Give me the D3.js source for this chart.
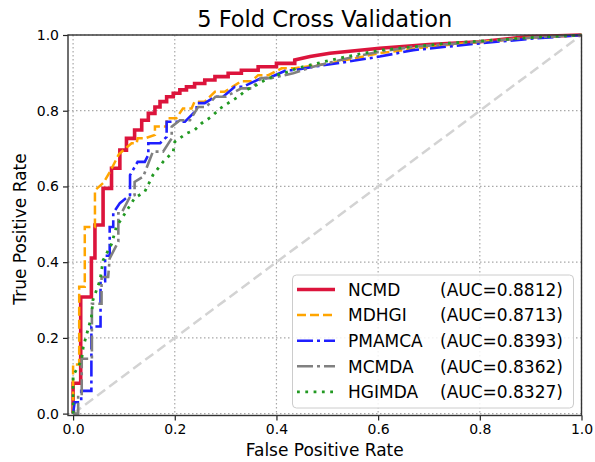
<!DOCTYPE html>
<html>
<head>
<meta charset="utf-8">
<script src="https://cdn.jsdelivr.net/npm/d3@7"></script>
<style>
  body { margin: 0; background: #fff; }
  text { font-family: "DejaVu Sans", sans-serif; fill: #000; }
</style>
</head>
<body>
<script>
// chart data
var methods = ["NCMD", "MDHGI", "PMAMCA", "MCMDA", "HGIMDA"];
var aucs = [0.8812, 0.8713, 0.8393, 0.8362, 0.8327];
var tickValues = [0.0, 0.2, 0.4, 0.6, 0.8, 1.0];

// ROC vertices, false positive rate / true positive rate
var fprNCMD = [0, 0, 0.015, 0.015, 0.036, 0.036, 0.043, 0.043, 0.059, 0.059, 0.0756, 0.0756, 0.092, 0.092, 0.105, 0.105, 0.121, 0.121, 0.135, 0.135, 0.148, 0.148, 0.161, 0.161, 0.171, 0.171, 0.184, 0.184, 0.197, 0.197, 0.21, 0.21, 0.223, 0.223, 0.239, 0.239, 0.259, 0.259, 0.279, 0.279, 0.305, 0.305, 0.331, 0.331, 0.364, 0.364, 0.4, 0.4, 0.436, 0.436, 0.466, 0.505, 0.603, 0.7, 0.8, 0.89, 1];
var tprNCMD = [0, 0.08, 0.08, 0.308, 0.308, 0.411, 0.411, 0.498, 0.498, 0.595, 0.595, 0.648, 0.648, 0.696, 0.696, 0.727, 0.727, 0.749, 0.749, 0.775, 0.775, 0.793, 0.793, 0.81, 0.81, 0.824, 0.824, 0.837, 0.837, 0.846, 0.846, 0.855, 0.855, 0.863, 0.863, 0.872, 0.872, 0.881, 0.881, 0.89, 0.89, 0.899, 0.899, 0.907, 0.907, 0.916, 0.916, 0.925, 0.925, 0.934, 0.943, 0.952, 0.965, 0.975, 0.982, 0.995, 1];

var fprMDHGI = [0, 0, 0.012, 0.012, 0.023, 0.023, 0.043, 0.043, 0.06, 0.075, 0.09, 0.107, 0.115, 0.125, 0.127, 0.141, 0.161, 0.161, 0.184, 0.184, 0.203, 0.216, 0.233, 0.239, 0.259, 0.279, 0.298, 0.331, 0.351, 0.364, 0.384, 0.41, 0.436, 0.505, 0.603, 0.702, 0.8, 0.9, 1];
var tprMDHGI = [0, 0.13, 0.13, 0.335, 0.335, 0.493, 0.493, 0.59, 0.61, 0.645, 0.685, 0.705, 0.714, 0.714, 0.727, 0.727, 0.736, 0.758, 0.758, 0.78, 0.78, 0.806, 0.806, 0.824, 0.824, 0.85, 0.85, 0.878, 0.878, 0.894, 0.894, 0.912, 0.912, 0.925, 0.952, 0.969, 0.982, 0.993, 1];

var fprPMAMCA = [0, 0.003, 0.016, 0.016, 0.036, 0.036, 0.054, 0.054, 0.063, 0.063, 0.072, 0.072, 0.079, 0.079, 0.092, 0.112, 0.112, 0.127, 0.141, 0.148, 0.148, 0.171, 0.184, 0.184, 0.22, 0.243, 0.243, 0.259, 0.279, 0.295, 0.318, 0.334, 0.37, 0.384, 0.42, 0.436, 0.472, 0.538, 0.603, 0.669, 0.735, 0.8, 0.9, 1];
var tprPMAMCA = [0, 0.03, 0.03, 0.06, 0.06, 0.23, 0.23, 0.35, 0.35, 0.417, 0.417, 0.493, 0.493, 0.53, 0.556, 0.577, 0.63, 0.665, 0.665, 0.683, 0.714, 0.714, 0.731, 0.771, 0.771, 0.802, 0.82, 0.82, 0.837, 0.837, 0.863, 0.863, 0.886, 0.886, 0.907, 0.907, 0.916, 0.929, 0.943, 0.96, 0.969, 0.978, 0.99, 1];

var fprMCMDA = [0, 0.01, 0.01, 0.017, 0.017, 0.037, 0.037, 0.056, 0.056, 0.069, 0.072, 0.089, 0.089, 0.095, 0.112, 0.121, 0.121, 0.138, 0.157, 0.177, 0.194, 0.194, 0.21, 0.23, 0.246, 0.262, 0.28, 0.3, 0.331, 0.351, 0.37, 0.39, 0.433, 0.472, 0.538, 0.603, 0.669, 0.8, 0.9, 1];
var tprMCMDA = [0, 0, 0.044, 0.044, 0.145, 0.145, 0.29, 0.29, 0.361, 0.361, 0.41, 0.454, 0.529, 0.529, 0.573, 0.577, 0.612, 0.626, 0.692, 0.692, 0.727, 0.758, 0.775, 0.775, 0.81, 0.81, 0.837, 0.837, 0.859, 0.859, 0.886, 0.886, 0.899, 0.916, 0.938, 0.956, 0.969, 0.982, 0.993, 1];

var fprHGIMDA = [0, 0, 0.0165, 0.02, 0.036, 0.039, 0.053, 0.059, 0.076, 0.085, 0.098, 0.121, 0.141, 0.157, 0.177, 0.197, 0.2, 0.223, 0.239, 0.253, 0.272, 0.289, 0.305, 0.325, 0.341, 0.361, 0.377, 0.4, 0.423, 0.44, 0.492, 0.538, 0.603, 0.669, 0.735, 0.8, 0.9, 1];
var tprHGIMDA = [0, 0.1, 0.14, 0.176, 0.255, 0.3, 0.352, 0.405, 0.449, 0.493, 0.52, 0.569, 0.586, 0.63, 0.665, 0.692, 0.718, 0.74, 0.749, 0.767, 0.784, 0.806, 0.82, 0.837, 0.855, 0.868, 0.881, 0.894, 0.903, 0.912, 0.929, 0.943, 0.96, 0.969, 0.978, 0.984, 0.993, 1];

var fprs = [fprNCMD, fprMDHGI, fprPMAMCA, fprMCMDA, fprHGIMDA];
var tprs = [tprNCMD, tprMDHGI, tprPMAMCA, tprMCMDA, tprHGIMDA];

// line styles per method
var colors = ["#dc143c", "#ffa500", "#1f1fff", "#808080", "#229922"];
var widths = [3.6, 2.5, 2.6, 2.6, 2.8];
var dashes = [null, "9,4", "16,4,3,4", "16,4,3,4", "2.8,5.5"];

var w = 595, h = 462;
var plotL = 68, plotR = 581.5, plotT = 35, plotB = 415.5;

var svg = d3.select("body").append("svg")
    .attr("width", w)
    .attr("height", h)
    .style("background", "#fff");

var x = d3.scaleLinear().domain([-0.01, 1.0]).range([plotL, plotR]);
var y = d3.scaleLinear().domain([-0.005, 1.0]).range([plotB, plotT]);

//dotted grid
svg.append("g").selectAll("line")
    .data(tickValues)
    .enter().append("line")
    .attr("x1", function(d){ return x(d); })
    .attr("x2", function(d){ return x(d); })
    .attr("y1", plotT).attr("y2", plotB)
    .style("stroke", "#a8a8a8")
    .style("stroke-width", 1.2)
    .style("stroke-dasharray", "1.5,2.5");
svg.append("g").selectAll("line")
    .data(tickValues)
    .enter().append("line")
    .attr("y1", function(d){ return y(d); })
    .attr("y2", function(d){ return y(d); })
    .attr("x1", plotL).attr("x2", plotR)
    .style("stroke", "#a8a8a8")
    .style("stroke-width", 1.2)
    .style("stroke-dasharray", "1.5,2.5");

//chance diagonal
svg.append("line")
    .attr("x1", x(0)).attr("y1", y(0))
    .attr("x2", x(1)).attr("y2", y(1))
    .style("stroke", "#d3d3d3")
    .style("stroke-width", 2.5)
    .style("stroke-dasharray", "10,5");

var line = d3.line()
    .x(function(d){ return x(d[0]); })
    .y(function(d){ return y(d[1]); });

methods.forEach(function(m, i){
    var pts = fprs[i].map(function(f, j){ return [f, tprs[i][j]]; });
    svg.append("path")
        .datum(pts)
        .attr("d", line)
        .style("fill", "none")
        .style("stroke", colors[i])
        .style("stroke-width", widths[i])
        .style("stroke-dasharray", dashes[i])
        .style("stroke-linejoin", "miter");
});

//axes
var xAxis = d3.axisBottom(x).tickValues(tickValues).tickFormat(d3.format(".1f"))
    .tickSize(5).tickSizeOuter(0).tickPadding(4);
var yAxis = d3.axisLeft(y).tickValues(tickValues).tickFormat(d3.format(".1f"))
    .tickSize(5).tickSizeOuter(0).tickPadding(4);

var gx = svg.append("g").attr("transform", "translate(0," + plotB + ")").call(xAxis);
var gy = svg.append("g").attr("transform", "translate(" + plotL + ",0)").call(yAxis);
[gx, gy].forEach(function(g){
    g.select(".domain").remove();
    g.selectAll("line").style("stroke", "#222").style("stroke-width", 1.2);
    g.selectAll("text").style("font-size", "14px").style("font-family", "DejaVu Sans").style("fill", "#000");
});

//frame
svg.append("rect")
    .attr("x", plotL).attr("y", plotT)
    .attr("width", plotR - plotL).attr("height", plotB - plotT)
    .style("fill", "none")
    .style("stroke", "#333")
    .style("stroke-width", 1.4);

//title and labels
svg.append("text")
    .attr("x", (plotL + plotR) / 2).attr("y", 27)
    .attr("text-anchor", "middle")
    .style("font-size", "22.5px")
    .text("5 Fold Cross Validation");
svg.append("text")
    .attr("x", (plotL + plotR) / 2).attr("y", 456)
    .attr("text-anchor", "middle")
    .style("font-size", "17px")
    .text("False Positive Rate");
svg.append("text")
    .attr("transform", "translate(26," + 229 + ") rotate(-90)")
    .attr("text-anchor", "middle")
    .style("font-size", "17px")
    .text("True Positive Rate");

//legend
var legend = svg.append("g");
legend.append("rect")
    .attr("x", 292.5).attr("y", 275)
    .attr("width", 281).attr("height", 133)
    .attr("rx", 4)
    .style("fill", "#fff").style("fill-opacity", 0.85)
    .style("stroke", "#cccccc").style("stroke-width", 1);

var rows = legend.selectAll("g")
    .data(methods)
    .enter().append("g")
    .attr("transform", function(d, i){ return "translate(0," + (289.5 + i * 25.6) + ")"; });
rows.append("line")
    .attr("x1", 297).attr("x2", 335)
    .style("stroke", function(d, i){ return colors[i]; })
    .style("stroke-width", function(d, i){ return widths[i]; })
    .style("stroke-dasharray", function(d, i){ return dashes[i]; });
rows.append("text")
    .attr("x", 348).attr("y", 6.2)
    .style("font-size", "17px")
    .text(function(d){ return d; });
rows.append("text")
    .attr("x", 440).attr("y", 6.2)
    .style("font-size", "17px")
    .text(function(d, i){ return "(AUC=" + aucs[i].toFixed(4) + ")"; });
</script>
</body>
</html>
